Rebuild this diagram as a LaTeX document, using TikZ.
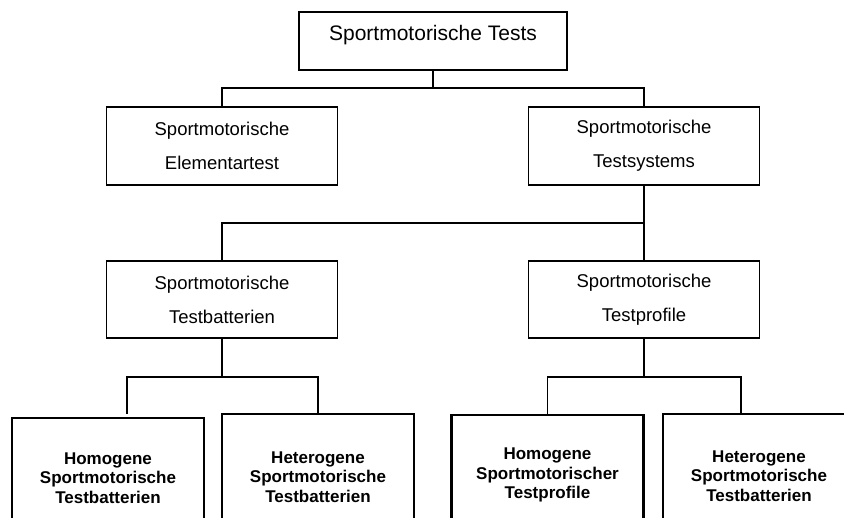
\documentclass[tikz,border=0pt]{standalone}
\usepackage{fontspec}
\setmainfont{Liberation Sans}
\begin{document}
\begin{tikzpicture}[x=1pt,y=-1pt,
  line width=1.5pt,
  rootbox/.style={draw, line width=1.5pt, minimum width=268pt, minimum height=58pt,
    inner sep=0pt, font=\fontsize{21}{24}\selectfont, text height=16pt, text depth=16pt},
  midbox/.style={draw, line width=1.5pt, minimum width=231pt, minimum height=78pt,
    inner sep=0pt, align=center, font=\fontsize{18.5}{34}\selectfont},
  leafbox/.style={draw, line width=2.5pt, minimum width=192pt,
    inner sep=0pt, align=center, font=\bfseries\fontsize{17}{19.5}\selectfont},
  link/.style={draw, line width=1.5pt}]
\useasboundingbox (0,0) rectangle (844,518);
\clip (0,0) rectangle (844,518);
\fill[white] (0,0) rectangle (844,518);

% top level
\node[rootbox] (root) at (433,41) {Sportmotorische Tests};

% second level
\node[midbox] (elem) at (222,146) {Sportmotorische\\Elementartest};
\node[midbox] (sys)  at (644,146) {Sportmotorische\\Testsystems};

% third level
\node[midbox, minimum height=77pt] (bat)  at (222,299.5) {Sportmotorische\\Testbatterien};
\node[midbox, minimum height=77pt] (prof) at (644,299.5) {Sportmotorische\\Testprofile};

% leaves (their lower edges run past the page)
\node[leafbox, minimum height=120pt] (b1) at (108,478) {Homogene\\Sportmotorische\\Testbatterien};
\node[leafbox, minimum height=126pt] (b2) at (318,477) {Heterogene\\Sportmotorische\\Testbatterien};
\node[leafbox, minimum height=120pt] (b3) at (547.5,475) {Homogene\\Sportmotorischer\\Testprofile};
\node[leafbox, minimum height=124pt] (b4) at (759,476) {Heterogene\\Sportmotorische\\Testbatterien};

% junctions
\coordinate (j1) at (433,88);
\coordinate (j2) at (644,223);
\coordinate (k1) at (222,377);
\coordinate (k2) at (644,377);
\coordinate (d1) at (127,414);
\coordinate (d4) at (741,414);

% connectors
\draw[link] (root.south) -- (j1);
\draw[link] (elem.north) |- (j1) -| (sys.north);

\draw[link] (sys.south) -- (prof.north);
\draw[link] (bat.north) |- (j2);

\draw[link] (bat.south) -- (k1);
\draw[link] (d1) |- (k1) -| (b2.north);

\draw[link] (prof.south) -- (k2);
\draw[link] (b3.north) |- (k2) -| (d4);
\end{tikzpicture}
\end{document}
